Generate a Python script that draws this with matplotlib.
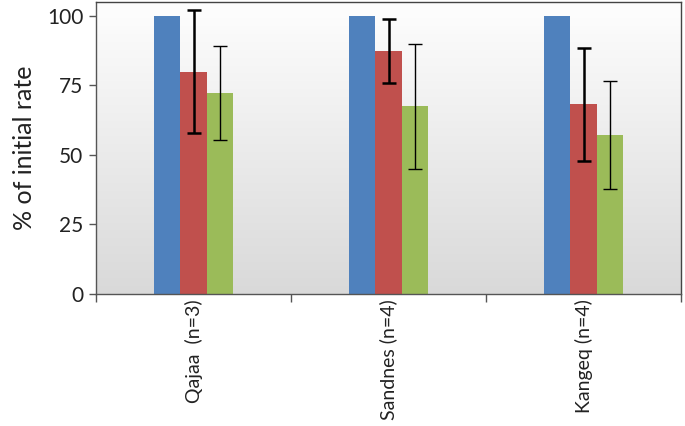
import numpy as np
import matplotlib

matplotlib.use("Agg")
import matplotlib.pyplot as plt
from matplotlib.colors import LinearSegmentedColormap

plt.rcParams["font.family"] = ["Lato", "DejaVu Sans"]

sites = ["Qajaa  (n=3)", "Sandnes (n=4)", "Kangeq (n=4)"]
blue_vals = [100, 100, 100]
red_vals = [80, 87.5, 68.3]
red_err = [22, 11.5, 20.3]
green_vals = [72.3, 67.5, 57.2]
green_err = [17, 22.5, 19.3]
y_ticks = [0, 25, 50, 75, 100]

fig = plt.figure(figsize=(6.85, 4.26), dpi=100)
ax = fig.add_axes([96 / 685, 1 - 294 / 426, 585 / 685, 292 / 426])

ax.set_xlim(-0.5, len(sites) - 0.5)
ax.set_ylim(0, 105)

# grey gradient in the plot area, lighter at the top
cmap = LinearSegmentedColormap.from_list("bg", ["#d9d9d9", "#fefefe"])
grad = np.linspace(0, 1, 256).reshape(-1, 1)
ax.imshow(grad, extent=[-0.5, len(sites) - 0.5, 0, 105], origin="lower",
          aspect="auto", cmap=cmap, zorder=0)

x = np.arange(len(sites))
w = 0.135
ax.bar(x - w, blue_vals, w, color="#4f81bd", zorder=2)
ax.bar(x, red_vals, w, color="#c0504d", zorder=2)
ax.bar(x + w, green_vals, w, color="#9bbb59", zorder=2)
ax.errorbar(x, red_vals, yerr=red_err, fmt="none", ecolor="black",
            elinewidth=1.8, capsize=5, capthick=1.8, zorder=3)
ax.errorbar(x + w, green_vals, yerr=green_err, fmt="none", ecolor="black",
            elinewidth=1, capsize=5, capthick=1, zorder=3)

ax.set_yticks(y_ticks)
ax.tick_params(axis="y", labelsize=15, length=5, width=1, color="#555555",
               labelcolor="#222222", pad=4)
ax.set_xticks(np.arange(len(sites) + 1) - 0.5, minor=False)
ax.set_xticklabels([])
ax.set_xticks(x, minor=True)
ax.set_xticklabels(sites, minor=True, rotation=90, fontsize=14, va="top",
                   ha="center")
ax.tick_params(axis="x", which="major", length=6, width=1, color="#555555")
ax.tick_params(axis="x", which="minor", length=0, pad=4, labelcolor="#222222")

ax.set_ylabel("% of initial rate", fontsize=18, color="#222222", labelpad=8)

for side in ["top", "right"]:
    ax.spines[side].set_color("#444444")
    ax.spines[side].set_linewidth(1)
for side in ["left", "bottom"]:
    ax.spines[side].set_color("#555555")
    ax.spines[side].set_linewidth(1)

fig.savefig("out.png", dpi=100)
